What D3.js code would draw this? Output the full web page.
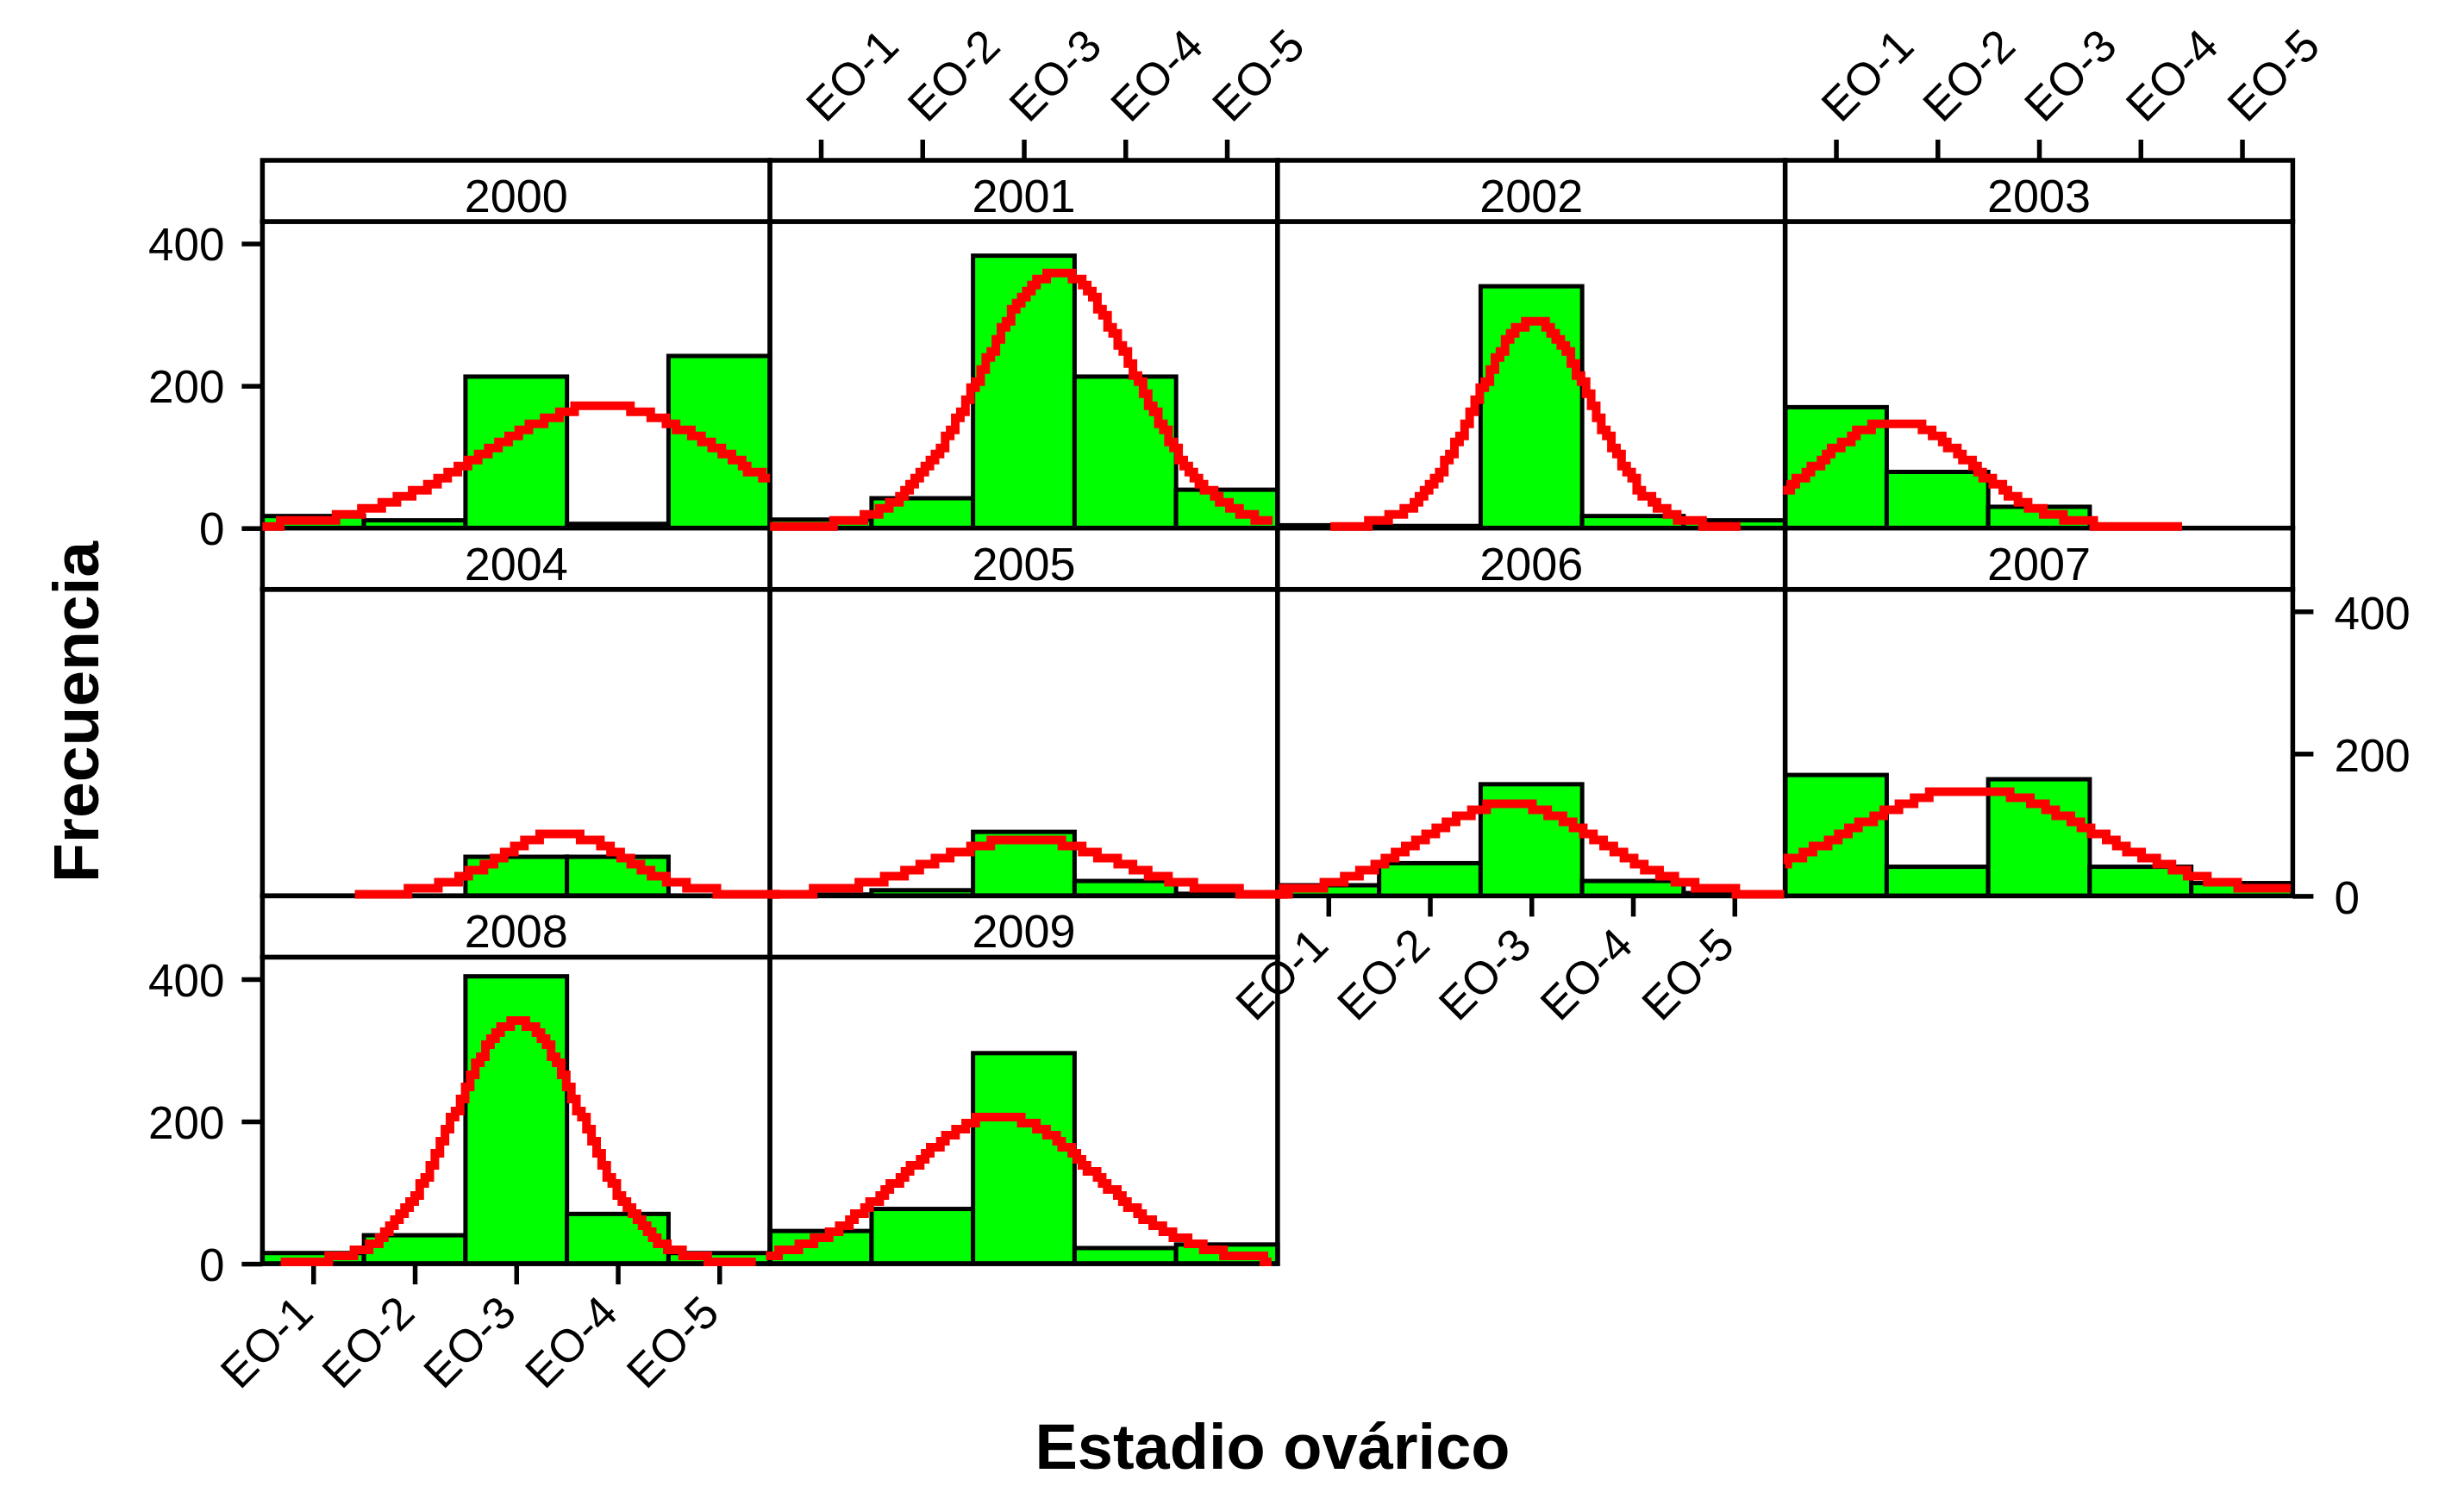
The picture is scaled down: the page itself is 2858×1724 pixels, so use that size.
<!DOCTYPE html>
<html><head><meta charset="utf-8">
<script src="https://cdn.jsdelivr.net/npm/d3@7"></script>
<style>html,body{margin:0;padding:0;background:#fff;} svg{display:block;}</style>
</head><body>
<svg id="chart" width="2858" height="1724"></svg>
<script>
// ---------------- DATA ----------------
const years = ["2000","2001","2002","2003","2004","2005","2006","2007","2008","2009"];
const stages = ["EO-1","EO-2","EO-3","EO-4","EO-5"];
const yTicks = [0, 200, 400];

// frequency per ovarian stage (EO-1 .. EO-5)
const counts2000 = [17, 11, 213, 6, 242];
const counts2001 = [12, 42, 383, 213, 54];
const counts2002 = [4, 3, 340, 17, 11];
const counts2003 = [170, 79, 30, 0, 0];
const counts2004 = [0, 0, 55, 55, 0];
const counts2005 = [2, 8, 90, 21, 3];
const counts2006 = [15, 46, 157, 21, 4];
const counts2007 = [170, 41, 164, 41, 18];
const counts2008 = [15, 40, 404, 70, 15];
const counts2009 = [46, 77, 296, 22, 27];

// fitted normal curve per year: mean stage, sd, peak frequency, drawn range
const curveMean = [3.87, 3.34, 3.03, 1.58, 3.45, 3.02, 2.78, 2.33, 3.02, 2.77];
const curveSD   = [1.17, 0.75, 0.565, 0.74, 0.62, 0.87, 0.86, 1.19, 0.63, 0.93];
const curvePeak = [170, 358, 290, 148, 85, 78, 127, 148, 338, 205];
const curveFrom = [0.5, 0.5, 1.02, 0.48, 1.41, 0.5, 0.48, 0.5, 0.68, 0.46];
const curveTo   = [5.5, 5.45, 5.06, 4.41, 5.6, 5.65, 5.49, 5.48, 5.36, 5.44];

const allCounts = [counts2000, counts2001, counts2002, counts2003, counts2004,
                   counts2005, counts2006, counts2007, counts2008, counts2009];

// ---------------- LAYOUT ----------------
const svg = d3.select("#chart");
const FONT = "'Liberation Sans', Arial, Helvetica, sans-serif";
const plotLeft = 304.4, colW = 588.75, plotTop = 186, rowH = 426.7, stripH = 71;
const nCols = 4, yMax = 431, lw = 5.5, tickLen = 24, tickFont = 53;

svg.append("rect").attr("width", 2858).attr("height", 1724).attr("fill", "#fff");

const panels = years.map((yr, i) => {
  const col = i % nCols, row = Math.floor(i / nCols);
  const x0 = plotLeft + col * colW, top = plotTop + row * rowH;
  const pTop = top + stripH, pBot = top + rowH;
  const x = d3.scaleLinear().domain([0.5, 5.5]).range([x0, x0 + colW]);
  const y = d3.scaleLinear().domain([0, yMax]).range([pBot, pTop]);
  return {yr, i, col, row, x0, top, pTop, pBot, x, y};
});

const gPanels = svg.append("g");
panels.forEach(p => {
  const g = gPanels.append("g");
  g.append("rect").attr("x", p.x0).attr("y", p.pTop).attr("width", colW).attr("height", p.pBot - p.pTop)
    .attr("fill", "#fff");
  // bars
  g.selectAll("rect.bar").data(allCounts[p.i]).join("rect").attr("class", "bar")
    .attr("x", (d, k) => p.x(k + 0.5))
    .attr("width", (d, k) => p.x(k + 1.5) - p.x(k + 0.5))
    .attr("y", d => p.y(d))
    .attr("height", d => p.y(0) - p.y(d))
    .attr("fill", "#00ff00").attr("stroke", "#000").attr("stroke-width", 5);
  // panel frame
  g.append("rect").attr("x", p.x0).attr("y", p.pTop).attr("width", colW).attr("height", p.pBot - p.pTop)
    .attr("fill", "none").attr("stroke", "#000").attr("stroke-width", lw);
  // strip
  g.append("rect").attr("x", p.x0).attr("y", p.top).attr("width", colW).attr("height", stripH)
    .attr("fill", "#fff").attr("stroke", "#000").attr("stroke-width", lw);
  g.append("text").attr("x", p.x0 + colW / 2).attr("y", p.top + 60)
    .attr("text-anchor", "middle").attr("font-family", FONT).attr("font-size", 54).attr("fill", "#000")
    .text(p.yr);
});

function styleAxis(g) {
  g.select(".domain").remove();
  g.selectAll(".tick line").attr("stroke", "#000").attr("stroke-width", lw);
  g.selectAll(".tick text").attr("font-family", FONT).attr("font-size", tickFont).attr("fill", "#000");
  g.attr("font-family", null).attr("font-size", null);
}

const gAxes = svg.append("g");
// left y axes (col 1, rows 1 and 3)
[0, 8].forEach(i => {
  const p = panels[i];
  const g = gAxes.append("g").attr("transform", `translate(${p.x0},0)`)
    .call(d3.axisLeft(p.y).tickValues(yTicks).tickSize(tickLen).tickPadding(20));
  styleAxis(g);
  g.selectAll(".tick text").attr("dy", "0.36em");
});
// right y axis (row 2)
[7].forEach(i => {
  const p = panels[i];
  const g = gAxes.append("g").attr("transform", `translate(${p.x0 + colW},0)`)
    .call(d3.axisRight(p.y).tickValues(yTicks).tickSize(tickLen).tickPadding(24));
  styleAxis(g);
  g.selectAll(".tick text").attr("dy", "0.38em");
});
// top x axes (cols 2 and 4)
[1, 3].forEach(i => {
  const p = panels[i];
  const g = gAxes.append("g").attr("transform", `translate(0,${p.top})`)
    .call(d3.axisTop(p.x).tickValues([1,2,3,4,5]).tickFormat(d => stages[d - 1]).tickSize(tickLen));
  styleAxis(g);
  g.selectAll(".tick text").attr("x", null).attr("y", null).attr("dy", null)
    .attr("text-anchor", "start")
    .attr("transform", `translate(5,${-tickLen - 18}) rotate(-45)`);
});
// bottom x axes (col 1 row 3, col 3 row 2)
[8, 6].forEach(i => {
  const p = panels[i];
  const g = gAxes.append("g").attr("transform", `translate(0,${p.pBot})`)
    .call(d3.axisBottom(p.x).tickValues([1,2,3,4,5]).tickFormat(d => stages[d - 1]).tickSize(tickLen));
  styleAxis(g);
  g.selectAll(".tick text").attr("x", null).attr("y", null).attr("dy", null)
    .attr("text-anchor", "end")
    .attr("transform", `translate(2,${tickLen + 36}) rotate(-45)`);
});

// fitted normal curves (drawn on top, stair-stepped like the original rendering)
const gCurves = svg.append("g");
panels.forEach(p => {
  const m = curveMean[p.i], s = curveSD[p.i], pk = curvePeak[p.i];
  const a = curveFrom[p.i], b = curveTo[p.i];
  const n = Math.max(2, Math.round((b - a) / 0.05));
  const pts = d3.range(n + 1).map(k => {
    const xs = a + (b - a) * k / n;
    const v = pk * Math.exp(-0.5 * Math.pow((xs - m) / s, 2));
    return [xs, v];
  });
  const q = 7;
  const line = d3.line()
    .x(d => p.x(d[0]))
    .y(d => p.pBot - 2 - Math.round((p.pBot - p.y(d[1])) / q) * q)
    .curve(d3.curveStep);
  gCurves.append("path").attr("d", line(pts))
    .attr("fill", "none").attr("stroke", "#ff0000").attr("stroke-width", 10)
    .attr("stroke-linejoin", "miter").attr("stroke-linecap", "butt");
});

// axis titles
svg.append("text").attr("x", 1476).attr("y", 1704).attr("text-anchor", "middle")
  .attr("font-family", FONT).attr("font-weight", "bold").attr("font-size", 74).attr("fill", "#000")
  .text("Estadio ovárico");
svg.append("text").attr("transform", "translate(114,826) rotate(-90)").attr("text-anchor", "middle")
  .attr("font-family", FONT).attr("font-weight", "bold").attr("font-size", 75).attr("fill", "#000")
  .text("Frecuencia");
</script>
</body></html>
